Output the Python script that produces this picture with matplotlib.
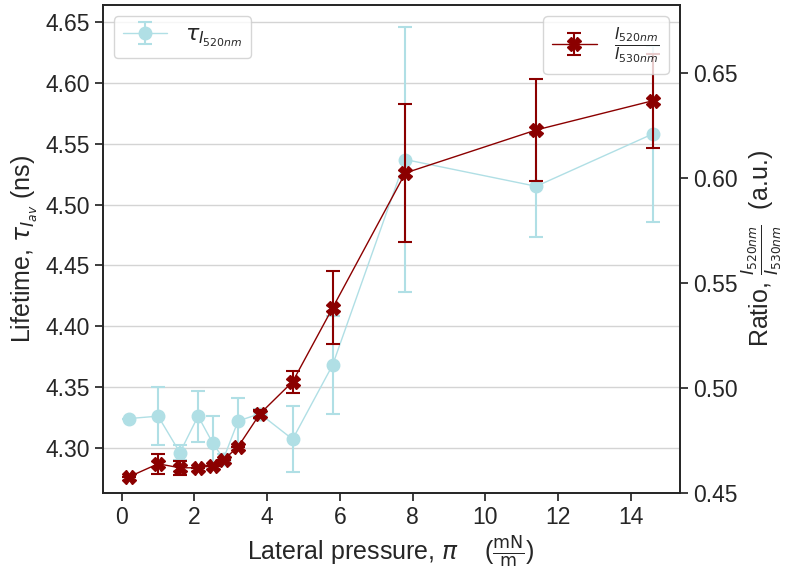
import matplotlib
matplotlib.use("Agg")
import matplotlib.pyplot as plt
import seaborn as sns
import numpy as np

# Data
pressure = [0.2, 1.0, 1.6, 2.1, 2.5, 2.8, 3.2, 3.8, 4.7, 5.8, 7.8, 11.4, 14.6]
lifetime = [4.324, 4.326, 4.296, 4.326, 4.304, 4.291, 4.322, 4.328, 4.307, 4.368, 4.537, 4.515, 4.558]
lifetime_err = [0.0, 0.024, 0.006, 0.021, 0.022, 0.004, 0.019, 0.004, 0.027, 0.040, 0.109, 0.042, 0.072]
ratio = [0.4576, 0.4638, 0.4619, 0.4619, 0.4629, 0.4657, 0.4719, 0.4876, 0.5029, 0.5381, 0.6024, 0.6229, 0.6368]
ratio_err = [0.0, 0.0048, 0.0033, 0.0, 0.0, 0.0, 0.0, 0.002, 0.0052, 0.0174, 0.033, 0.0245, 0.0225]

left_ticks = [4.30, 4.35, 4.40, 4.45, 4.50, 4.55, 4.60, 4.65]
right_ticks = [0.45, 0.50, 0.55, 0.60, 0.65]
x_ticks = [0, 2, 4, 6, 8, 10, 12, 14]

sns.set_theme(style="ticks", context="notebook", font_scale=1.5)
plt.rcParams['font.family'] = ['Liberation Sans', 'DejaVu Sans']
plt.rcParams['mathtext.fontset'] = 'dejavusans'

fig = plt.figure(figsize=(7.85, 5.69), dpi=100)
ax1 = fig.add_axes([0.131, 0.134, 0.735, 0.857])
ax2 = ax1.twinx()

blue = '#b0dfe5'
red = '#8b0000'

ax1.errorbar(pressure, lifetime, yerr=lifetime_err, color=blue, marker='o',
             markersize=9, linewidth=1.0, elinewidth=1.5, capsize=5, capthick=1.5,
             label=r'$\tau_{I_{520nm}}$')
ax2.errorbar(pressure, ratio, yerr=ratio_err, color=red, marker='X',
             markersize=10, linewidth=1.0, elinewidth=1.5, capsize=5, capthick=1.5,
             label=r'$\frac{I_{520nm}}{I_{530nm}}$')

ax1.set_xlim(-0.52, 15.35)
ax1.set_ylim(4.263, 4.664)
ax2.set_ylim(0.45, 0.6824)
ax1.set_xticks(x_ticks)
ax1.set_yticks(left_ticks)
ax2.set_yticks(right_ticks)
ax1.set_yticklabels([f'{v:.2f}' for v in left_ticks])
ax2.set_yticklabels([f'{v:.2f}' for v in right_ticks])

ax1.grid(axis='y', color='#d4d4d4', linewidth=1.0)
ax1.set_axisbelow(True)

ax1.set_xlabel(r'Lateral pressure, $\pi$    ($\frac{\mathrm{mN}}{\mathrm{m}}$)')
ax1.set_ylabel(r'Lifetime, $\tau_{I_{av}}$ (ns)')
ax2.set_ylabel(r'Ratio, $\frac{I_{520nm}}{I_{530nm}}$  (a.u.)', labelpad=2)

ax1.legend(loc='upper left', fontsize=16)
ax2.legend(loc='upper right', fontsize=16)

fig.savefig('out.png', dpi=100)
